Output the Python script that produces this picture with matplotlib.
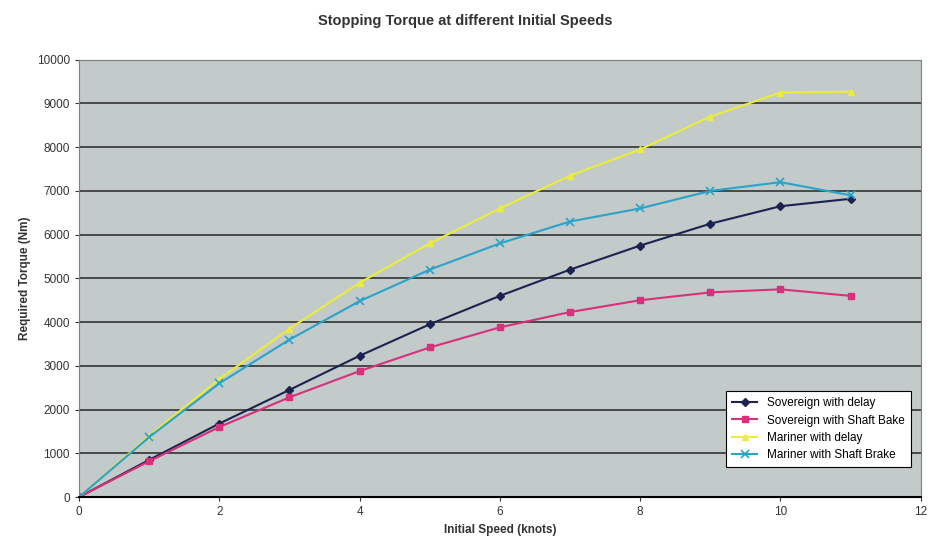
import matplotlib
matplotlib.use("Agg")
import matplotlib.pyplot as plt

plt.rcParams["font.family"] = ["Liberation Sans", "DejaVu Sans"]

speed = [0, 1, 2, 3, 4, 5, 6, 7, 8, 9, 10, 11]
sovereign_delay = [0, 850, 1680, 2450, 3230, 3950, 4600, 5200, 5750, 6250, 6650, 6820]
sovereign_brake = [0, 820, 1600, 2280, 2880, 3420, 3880, 4230, 4500, 4680, 4750, 4600]
mariner_delay = [0, 1400, 2700, 3850, 4900, 5800, 6600, 7350, 7950, 8700, 9250, 9270]
mariner_brake = [0, 1370, 2600, 3600, 4480, 5200, 5800, 6300, 6600, 7000, 7200, 6900]

fig = plt.figure(figsize=(9.3, 5.48), dpi=100)
ax = fig.add_axes([0.085, 0.093, 0.905, 0.798])
ax.set_facecolor("#c2caca")

ax.plot(speed, sovereign_delay, "D-", color="#1c2350", ms=4, lw=1.5, label="Sovereign with delay")
ax.plot(speed, sovereign_brake, "s-", color="#d8307a", ms=5, lw=1.5, label="Sovereign with Shaft Bake")
ax.plot(speed, mariner_delay, "^-", color="#ecec3a", ms=5, lw=1.5, label="Mariner with delay")
ax.plot(speed, mariner_brake, "x-", color="#2aa3c8", ms=6, mew=1.2, lw=1.5, label="Mariner with Shaft Brake")

ax.set_xlim(0, 12)
ax.set_ylim(0, 10000)
ax.set_xticks(range(0, 13, 2))
ax.set_yticks(range(0, 10001, 1000))
ax.yaxis.grid(True, color="#333333", lw=1.2)
ax.set_axisbelow(True)
for s in ["top", "right", "left"]:
    ax.spines[s].set_color("#808080")
ax.spines["bottom"].set_color("black")
ax.spines["bottom"].set_linewidth(1.5)
ax.tick_params(labelsize=8.5, colors="#333333", length=3)

ax.set_xlabel("Initial Speed (knots)", fontsize=8.5, fontweight="bold", color="#333333")
ax.set_ylabel("Required Torque (Nm)", fontsize=8.5, fontweight="bold", color="#333333")
fig.suptitle("Stopping Torque at different Initial Speeds", fontsize=10.5, fontweight="bold",
             color="#333333", y=0.975)

leg = ax.legend(loc="lower right", bbox_to_anchor=(0.995, 0.055), fontsize=8.5, fancybox=False,
                framealpha=1, edgecolor="black", handlelength=2.2, borderpad=0.5, labelspacing=0.45)
leg.get_frame().set_linewidth(0.8)

fig.savefig("out.png", dpi=100)
